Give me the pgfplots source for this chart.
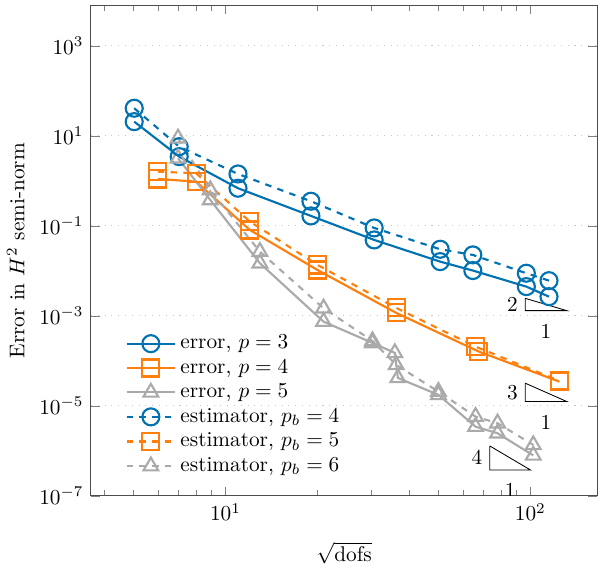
\documentclass[border=0pt]{standalone}
\usepackage{pgfplots}
\pgfplotsset{compat=1.18}
\definecolor{cblue}{RGB}{0,114,178}
\definecolor{corange}{RGB}{255,127,14}
\definecolor{cgray}{RGB}{170,170,170}
\begin{document}
\begin{tikzpicture}
\begin{axis}[
  scale only axis, width=238pt, height=230.5pt,
  xmode=log, ymode=log,
  xmin=3.62, xmax=166, ymin=1e-7, ymax=8e3,
  ytick={1e-7,1e-5,1e-3,1e-1,1e1,1e3},
  ymajorgrids, grid style={line width=0.5pt, dash pattern=on 0.5pt off 2.7pt, gray!45},
  axis line style={black!70},
  tick style={black!50},
  xlabel={$\sqrt{\mathrm{dofs}}$},
  xlabel style={yshift=-3pt},
  ylabel={Error in $H^2$ semi-norm},
  legend style={at={(0.055,0.025)}, anchor=south west, draw=none, fill=none, row sep=-0.5pt},
  legend cell align=left,
  every axis plot/.append style={line width=1pt, mark size=4pt,
    legend image code/.code={
    \draw[mark repeat=2,mark phase=2] plot coordinates {(0cm,0cm) (0.4cm,0cm) (0.8cm,0cm)};}},
]
\addplot[cblue, mark=o, mark options={solid}] coordinates {
(5.02,20.8)(7.05,3.47)(10.99,0.689)(19.07,0.167)(30.74,0.0489)(50.6,0.0161)(64.76,0.0102)(97.0,0.00448)(115.1,0.00268)};
\addlegendentry{error, $p=3$}
\addplot[corange, mark=square, mark options={solid}] coordinates {
(6.0,1.108)(8.01,0.965)(12.02,0.0814)(20.03,0.0105)(36.29,0.00117)(67.8,0.000161)(124.5,3.47e-5)};
\addlegendentry{error, $p=4$}
\addplot[cgray, mark=triangle, mark options={solid}] coordinates {
(6.99,3.19)(8.915,0.378)(12.97,0.01483)(20.97,7.47e-4)(30.35,2.51e-4)(35.93,1.51e-4)(36.76,4.19e-5)(49.93,1.76e-5)(66.1,3.46e-6)(78.05,2.47e-6)(102.2,7.94e-7)};
\addlegendentry{error, $p=5$}
\addplot[cblue, dashed, mark=o, mark options={solid}] coordinates {
(5.02,41.3)(7.05,5.78)(10.99,1.43)(19.07,0.354)(30.74,0.0903)(50.6,0.0303)(64.76,0.0227)(97.0,0.00889)(115.1,0.00608)};
\addlegendentry{estimator, $p_b=4$}
\addplot[corange, dashed, mark=square, mark options={solid}] coordinates {
(6.0,1.61)(8.01,1.48)(12.02,0.125)(20.03,0.0136)(36.29,0.00151)(66.1,0.000208)(124.5,3.6e-5)};
\addlegendentry{estimator, $p_b=5$}
\addplot[cgray, dashed, mark=triangle, mark options={solid}] coordinates {
(6.99,8.89)(8.915,0.631)(12.97,0.0268)(20.97,1.48e-3)(30.35,2.78e-4)(36.3,8.15e-5)(49.93,2.08e-5)(66.1,5.78e-6)(78.05,4.13e-6)(102.2,1.36e-6)};
\addlegendentry{estimator, $p_b=6$}
% slope triangles
\addplot[black, mark=none, line width=0.4pt, forget plot] coordinates {(96.2,2.46e-3)(96.2,1.31e-3)(131.7,1.31e-3)(96.2,2.46e-3)};
\addplot[black, mark=none, line width=0.4pt, forget plot] coordinates {(96.2,3.2e-5)(96.2,1.25e-5)(131.7,1.25e-5)(96.2,3.2e-5)};
\addplot[black, mark=none, line width=0.4pt, forget plot] coordinates {(73.6,1.29e-6)(73.6,3.78e-7)(100,3.78e-7)(73.6,1.29e-6)};
\node[anchor=east] at (axis cs:96.2,1.78e-3) {$2$};
\node[anchor=north, yshift=-3pt] at (axis cs:112.5,1.31e-3) {$1$};
\node[anchor=east] at (axis cs:96.2,2.0e-5) {$3$};
\node[anchor=north, yshift=-3pt] at (axis cs:112.5,1.25e-5) {$1$};
\node[anchor=east] at (axis cs:73.6,7.0e-7) {$4$};
\node[anchor=north, yshift=-3pt] at (axis cs:85.8,3.78e-7) {$1$};
\end{axis}
\path ([yshift=2.5pt]current axis.north) coordinate (topmargin);
\end{tikzpicture}
\end{document}
